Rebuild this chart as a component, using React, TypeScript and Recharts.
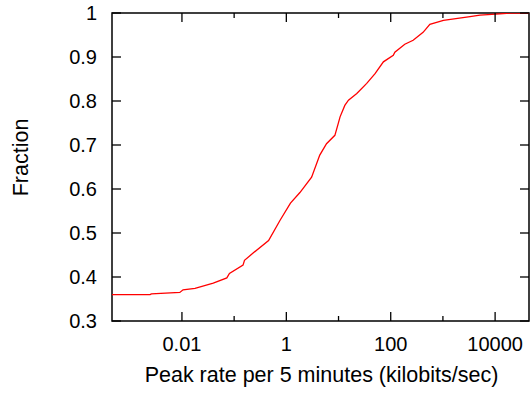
import React from 'react';
import { LineChart, Line, XAxis, YAxis, ReferenceArea, Label } from 'recharts';

// Peak rate per 5 minutes (kilobits/sec) -> cumulative fraction
const rates = [
  0.000457, 0.00245, 0.0026, 0.0091, 0.0105, 0.0178, 0.0398, 0.0724, 0.0813,
  0.148, 0.158, 0.234, 0.457, 0.759, 1.2, 1.82, 3.05, 4.37, 5.89, 8.51, 9.89,
  10.7, 13.2, 15.5, 22.4, 34.7, 50.1, 72.4, 112, 120, 186, 269, 417, 562,
  1023, 3311, 5129, 12300, 20000, 44600,
];
const fractions = [
  0.36, 0.36, 0.3615, 0.365, 0.371, 0.374, 0.386, 0.398, 0.408,
  0.427, 0.438, 0.455, 0.483, 0.529, 0.568, 0.592, 0.627, 0.677, 0.703, 0.722, 0.749,
  0.764, 0.79, 0.802, 0.817, 0.84, 0.862, 0.889, 0.904, 0.911, 0.929, 0.938, 0.956, 0.974,
  0.983, 0.992, 0.995, 0.998, 1.0, 1.0,
];

const xMajorTicks = [0.01, 1, 100, 10000];
const xMajorLabels = ['0.01', '1', '100', '10000'];
const xMinorTicks = [0.1, 10, 1000];
const yTicks = [0.3, 0.4, 0.5, 0.6, 0.7, 0.8, 0.9, 1];
const yTickLabels = ['0.3', '0.4', '0.5', '0.6', '0.7', '0.8', '0.9', '1'];

const xDomain: [number, number] = [0.000457, 44600];
const yDomain: [number, number] = [0.3, 1];

const data = rates.map((r, i) => ({ rate: r, fraction: fractions[i] }));

const W = 530;
const H = 393;
const PL = 112;
const PR = 529;
const PT = 13;
const PB = 321;
const FONT = '"Liberation Sans", Arial, Helvetica, sans-serif';
const FS = 20;
const FS_TITLE = 21.5;

const BottomTick = (props: any) => {
  const { x, payload } = props;
  const v = payload.value;
  const idx = xMajorTicks.indexOf(v);
  const major = idx >= 0;
  const len = major ? 9 : 5;
  return (
    <g>
      <line x1={x} x2={x} y1={PB} y2={PB - len} stroke="#000" strokeWidth={1.3} />
      <line x1={x} x2={x} y1={PT} y2={PT + len} stroke="#000" strokeWidth={1.3} />
      {major && (
        <text x={x} y={350.5} textAnchor="middle" fontFamily={FONT} fontSize={FS} fill="#000">
          {xMajorLabels[idx]}
        </text>
      )}
    </g>
  );
};

const LeftTick = (props: any) => {
  const { y, payload } = props;
  const idx = yTicks.indexOf(payload.value);
  return (
    <g>
      <line x1={PL} x2={PL + 9} y1={y} y2={y} stroke="#000" strokeWidth={1.3} />
      <line x1={PR} x2={PR - 9} y1={y} y2={y} stroke="#000" strokeWidth={1.3} />
      <text x={97} y={y + 7} textAnchor="end" fontFamily={FONT} fontSize={FS} fill="#000">
        {yTickLabels[idx]}
      </text>
    </g>
  );
};

export default function App() {
  return (
    <div style={{ position: 'absolute', left: 0, top: 0, width: W, height: H, background: '#fff' }}>
      <LineChart width={W} height={H} data={data} margin={{ top: PT, right: W - PR, left: 0, bottom: 0 }}>
        <XAxis
          dataKey="rate"
          type="number"
          scale="log"
          domain={xDomain}
          allowDataOverflow
          ticks={[...xMajorTicks, ...xMinorTicks]}
          tick={<BottomTick />}
          tickLine={false}
          axisLine={false}
          height={H - PB}
          interval={0}
        >
          <Label
            content={() => (
              <text x={321.5} y={382} textAnchor="middle" fontFamily={FONT} fontSize={FS_TITLE} fill="#000">
                Peak rate per 5 minutes (kilobits/sec)
              </text>
            )}
          />
        </XAxis>
        <YAxis
          type="number"
          domain={yDomain}
          allowDataOverflow
          ticks={yTicks}
          tick={<LeftTick />}
          tickLine={false}
          axisLine={false}
          width={PL}
          interval={0}
        >
          <Label
            content={() => (
              <text
                x={0}
                y={0}
                transform={`translate(28, 157.5) rotate(-90)`}
                textAnchor="middle"
                fontFamily={FONT}
                fontSize={FS_TITLE}
                fill="#000"
              >
                Fraction
              </text>
            )}
          />
        </YAxis>
        <Line
          type="linear"
          dataKey="fraction"
          stroke="#ff0000"
          strokeWidth={1.3}
          dot={false}
          isAnimationActive={false}
        />
        <ReferenceArea
          x1={xDomain[0]}
          x2={xDomain[1]}
          y1={yDomain[0]}
          y2={yDomain[1]}
          fill="none"
          fillOpacity={0}
          stroke="#000"
          strokeWidth={1.5}
          ifOverflow="visible"
        />
      </LineChart>
    </div>
  );
}
